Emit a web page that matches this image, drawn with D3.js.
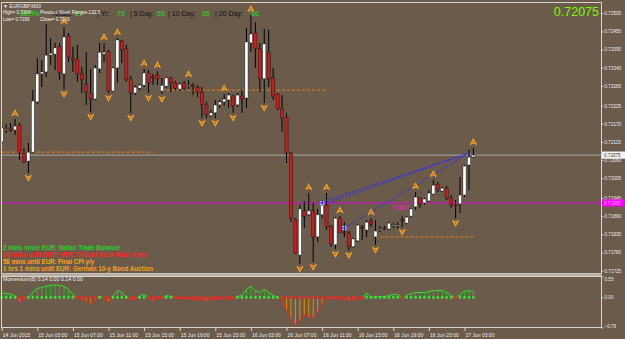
<!DOCTYPE html>
<html lang="en">
<head>
<meta charset="UTF-8">
<title>EURGBP,M30</title>
<script src="https://d3js.org/d3.v7.min.js"></script>
<style>
body { margin:0; background:#6b5b4b; }
svg { display:block; font-family:"Liberation Sans", Arial, sans-serif; }
</style>
</head>
<body>
<div id="chart"></div>
<script>
// EURGBP M30, 14 Jun 23:00 .. 17 Jun 04:00 (one entry per bar)
var opens = [0.72115,0.72154,0.72157,0.72151,0.72166,0.72081,0.72057,0.72084,0.72236,0.72321,
  0.72327,0.72378,0.72381,0.72403,0.72321,0.72436,0.72369,0.72366,0.72321,0.72290,
  0.72263,0.72245,0.72336,0.72381,0.72390,0.72269,0.72339,0.72421,0.72397,0.72306,
  0.72263,0.72278,0.72287,0.72324,0.72312,0.72318,0.72269,0.72284,0.72309,0.72294,
  0.72275,0.72294,0.72284,0.72287,0.72281,0.72266,0.72227,0.72194,0.72203,0.72227,
  0.72236,0.72242,0.72254,0.72227,0.72254,0.72248,0.72415,0.72445,0.72397,0.72306,
  0.72387,0.72309,0.72260,0.72215,0.72190,0.72081,0.71881,0.71772,0.71906,0.71894,
  0.71906,0.71827,0.71894,0.71924,0.71860,0.71803,0.71884,0.71842,0.71839,0.71797,
  0.71815,0.71857,0.71848,0.71875,0.71827,0.71851,0.71854,0.71851,0.71863,0.71860,
  0.71879,0.71869,0.71890,0.71918,0.71945,0.71930,0.71936,0.71957,0.71987,0.71966,
  0.71975,0.71945,0.71924,0.71927,0.71954,0.72045,0.72069];
var highs = [0.72163,0.72169,0.72172,0.72184,0.72172,0.72097,0.72112,0.72272,0.72369,0.72363,
  0.72472,0.72430,0.72415,0.72415,0.72463,0.72445,0.72403,0.72409,0.72342,0.72387,
  0.72336,0.72348,0.72415,0.72415,0.72394,0.72342,0.72430,0.72424,0.72409,0.72315,
  0.72287,0.72290,0.72336,0.72333,0.72321,0.72330,0.72309,0.72312,0.72312,0.72300,
  0.72294,0.72300,0.72303,0.72294,0.72287,0.72281,0.72236,0.72212,0.72242,0.72242,
  0.72260,0.72263,0.72257,0.72263,0.72272,0.72460,0.72500,0.72478,0.72415,0.72457,
  0.72454,0.72339,0.72263,0.72257,0.72203,0.72084,0.71884,0.71924,0.71936,0.71960,
  0.71930,0.71912,0.71939,0.71960,0.71863,0.71887,0.71890,0.71872,0.71845,0.71824,
  0.71866,0.71863,0.71878,0.71884,0.71878,0.71860,0.71860,0.71872,0.71869,0.71872,
  0.71890,0.71890,0.71915,0.71963,0.71948,0.71945,0.71969,0.72000,0.71993,0.71978,
  0.71981,0.71954,0.71939,0.72009,0.72045,0.72091,0.72097];
var lows = [0.72109,0.72142,0.72145,0.72136,0.72060,0.72051,0.72021,0.72081,0.72230,0.72281,
  0.72312,0.72348,0.72333,0.72303,0.72275,0.72357,0.72327,0.72297,0.72263,0.72227,
  0.72206,0.72242,0.72324,0.72357,0.72263,0.72266,0.72294,0.72354,0.72297,0.72203,
  0.72257,0.72272,0.72281,0.72263,0.72287,0.72287,0.72260,0.72278,0.72266,0.72272,
  0.72269,0.72272,0.72275,0.72257,0.72251,0.72187,0.72187,0.72190,0.72187,0.72218,
  0.72224,0.72218,0.72203,0.72221,0.72203,0.72218,0.72387,0.72339,0.72266,0.72233,
  0.72281,0.72242,0.72212,0.72145,0.72051,0.71872,0.71775,0.71745,0.71854,0.71890,
  0.71751,0.71812,0.71884,0.71848,0.71797,0.71790,0.71839,0.71827,0.71787,0.71794,
  0.71812,0.71818,0.71827,0.71857,0.71803,0.71842,0.71848,0.71848,0.71854,0.71851,
  0.71857,0.71866,0.71887,0.71909,0.71915,0.71924,0.71933,0.71954,0.71963,0.71963,
  0.71939,0.71915,0.71884,0.71900,0.71948,0.71969,0.72066];
var closes = [0.72157,0.72155,0.72151,0.72163,0.72081,0.72054,0.72084,0.72239,0.72321,0.72327,
  0.72378,0.72384,0.72400,0.72324,0.72433,0.72372,0.72363,0.72321,0.72303,0.72266,
  0.72245,0.72339,0.72387,0.72387,0.72269,0.72339,0.72424,0.72394,0.72303,0.72263,
  0.72281,0.72287,0.72324,0.72294,0.72309,0.72306,0.72287,0.72309,0.72294,0.72278,
  0.72290,0.72278,0.72287,0.72284,0.72266,0.72227,0.72197,0.72203,0.72227,0.72236,
  0.72245,0.72257,0.72224,0.72257,0.72245,0.72418,0.72442,0.72397,0.72306,0.72412,
  0.72306,0.72254,0.72215,0.72187,0.72081,0.71884,0.71778,0.71912,0.71890,0.71906,
  0.71827,0.71894,0.71927,0.71857,0.71806,0.71884,0.71839,0.71839,0.71797,0.71821,
  0.71863,0.71854,0.71872,0.71866,0.71845,0.71852,0.71853,0.71869,0.71864,0.71863,
  0.71878,0.71887,0.71912,0.71948,0.71927,0.71942,0.71960,0.71984,0.71972,0.71975,
  0.71945,0.71924,0.71921,0.71954,0.72042,0.72069,0.72075];

// Momentum(8) sub window
var momentum = [0.11,0.11,0.08,0.05,-0.11,-0.05,0.01,0.13,0.24,0.26,
  0.29,0.32,0.32,0.32,0.29,0.21,0.08,-0.02,-0.05,-0.08,
  -0.16,-0.05,0.03,-0.01,-0.11,0.03,0.18,0.13,0.03,-0.05,
  -0.05,0.03,0.08,-0.01,-0.08,-0.03,-0.01,0.05,0.03,-0.01,
  -0.03,-0.03,-0.03,-0.05,-0.05,-0.05,-0.08,-0.05,-0.05,-0.03,
  -0.03,-0.05,-0.03,0.03,0.05,0.21,0.29,0.18,0.13,0.21,
  0.13,0.05,0.01,-0.05,-0.34,-0.55,-0.71,-0.61,-0.45,-0.50,
  -0.53,-0.39,-0.16,-0.03,-0.01,-0.03,-0.05,-0.03,-0.08,-0.05,
  -0.03,-0.03,0.11,0.01,0.01,0.02,0.02,0.05,0.08,0.08,
  -0.02,0.05,0.11,0.13,0.13,0.13,0.16,0.18,0.18,0.18,
  0.13,0.05,-0.01,0.08,0.16,0.18,0.14];

var fractalUp = [3,14,23,26,32,35,42,50,56,69,73,76,83,93,97,106];
var fractalDown = [6,14,20,24,29,33,36,45,48,52,59,67,70,75,78,84,90,102];

var priceTicks = [0.72505,0.72450,0.72395,0.72340,0.72285,0.72225,0.72170,0.72115,
  0.72060,0.72005,0.71945,0.71890,0.71835,0.71780,0.71725];
var momTicks = [0.55,0.00,-0.79];

var timeTickBars = [0,8,16,24,32,40,48,56,64,72,80,88,96,104];
var timeLabels = ["14 Jun 2015","15 Jun 03:00","15 Jun 07:00","15 Jun 11:00","15 Jun 15:00",
  "15 Jun 19:00","15 Jun 23:00","16 Jun 03:00","16 Jun 07:00","16 Jun 11:00",
  "16 Jun 15:00","16 Jun 19:00","16 Jun 23:00","17 Jun 03:00"];

var pivotLevel = 0.71930;
// [fromBar, toBar, price]
var rangeLevels = [[0,34,0.72084],[36,73,0.72272],[84,106,0.71827]];
// [bar1, price1, bar2, price2]
var trendLines = [[72,0.71933,105,0.72081],[72,0.71924,105,0.72081],[77,0.71854,105,0.72081]];
var anchors = [[72,0.71930],[77,0.71854]];

var newsLines = ["2 mins since EUR: Italian Trade Balance",
  "28 mins until GBP: MPC Official Bank Rate Votes",
  "58 mins until EUR: Final CPI y/y",
  "1 hrs 1 mins until EUR: German 10-y Bond Auction"];
var rangeLabels = ["Today:", "| Yr:", "| 5 Day:", "| 10 Day:", "| 20 Day:"];
var rangeValues = ["27", "75", "55", "65", "66"];

var W = 625, H = 339;
var svg = d3.select("#chart").append("svg").attr("width", W).attr("height", H);
svg.append("rect").attr("width", W).attr("height", H).attr("fill", "#6b5b4b");

var x = d3.scaleLinear().domain([0, 106]).range([1.7, 473.4]);
var y = d3.scaleLinear().domain([0.71725, 0.72505]).range([270.6, 13.2]);
var ym = d3.scaleLinear().domain([-0.79, 0.55]).range([327.5, 276.5]);

svg.append("clipPath").attr("id", "main").append("rect")
  .attr("x", 1).attr("y", 2).attr("width", 600).attr("height", 271);
var main = svg.append("g").attr("clip-path", "url(#main)");

// bid and pivot lines
var last = closes.length - 1;
main.append("line").attr("x1", 1).attr("x2", 601)
  .attr("y1", y(closes[last])).attr("y2", y(closes[last]))
  .attr("stroke", "#a6a6a6").attr("stroke-width", 1);
main.append("line").attr("x1", 1).attr("x2", 601)
  .attr("y1", y(pivotLevel)).attr("y2", y(pivotLevel))
  .attr("stroke", "#e000e0").attr("stroke-width", 1);

main.selectAll(".lvl").data(rangeLevels).enter().append("line")
  .attr("x1", function(d){ return x(d[0]); }).attr("x2", function(d){ return x(d[1]); })
  .attr("y1", function(d){ return y(d[2]); }).attr("y2", function(d){ return y(d[2]); })
  .attr("stroke", "#e8801e").attr("stroke-width", 1).attr("stroke-dasharray", "3,2");

// candles
var bars = d3.range(opens.length);
main.selectAll(".wick").data(bars).enter().append("line")
  .attr("x1", function(i){ return x(i); }).attr("x2", function(i){ return x(i); })
  .attr("y1", function(i){ return y(highs[i]); }).attr("y2", function(i){ return y(lows[i]); })
  .attr("stroke", "#000").attr("stroke-width", 1);
main.selectAll(".body").data(bars).enter().append("rect")
  .attr("x", function(i){ return x(i) - 1.6; })
  .attr("y", function(i){ return y(Math.max(opens[i], closes[i])); })
  .attr("width", 3.2)
  .attr("height", function(i){ return Math.max(1, Math.abs(y(opens[i]) - y(closes[i]))); })
  .attr("fill", function(i){ return closes[i] >= opens[i] ? "#ffffff" : "#d0191b"; })
  .attr("stroke", "#1a1a1a").attr("stroke-width", 0.5);

// trend lines
main.selectAll(".trend").data(trendLines).enter().append("line")
  .attr("x1", function(d){ return x(d[0]); }).attr("y1", function(d){ return y(d[1]); })
  .attr("x2", function(d){ return x(d[2]); }).attr("y2", function(d){ return y(d[3]); })
  .attr("stroke", "#2b2bff").attr("stroke-width", 1).attr("stroke-dasharray", "2,1.5");
var anc = main.selectAll(".anc").data(anchors).enter().append("g")
  .attr("transform", function(d){ return "translate(" + x(d[0]) + "," + y(d[1]) + ")"; });
anc.append("circle").attr("r", 2.3).attr("fill", "#ffffff");
anc.append("path").attr("d", "M-2,0H2M0,-2.5V2.5").attr("stroke", "#1a1aff").attr("stroke-width", 1.2);

// fractal arrows
main.selectAll(".up").data(fractalUp).enter().append("path")
  .attr("transform", function(i){ return "translate(" + x(i) + "," + (y(highs[i]) - 6) + ")"; })
  .attr("d", "M-3,3L0,-2.5L3,3M-1.5,1.2H1.5")
  .attr("fill", "none").attr("stroke", "#f2a023").attr("stroke-width", 1.3);
main.selectAll(".dn").data(fractalDown).enter().append("path")
  .attr("transform", function(i){ return "translate(" + x(i) + "," + (y(lows[i]) + 5) + ")"; })
  .attr("d", "M-3,-3L0,2.5L3,-3M-1.5,-1.2H1.5")
  .attr("fill", "none").attr("stroke", "#f2a023").attr("stroke-width", 1.3);

main.append("text").attr("x", 393).attr("y", 210).attr("font-size", 7)
  .attr("fill", "#e020e0").text("9384");

// header
svg.append("text").attr("x", 3).attr("y", 8).attr("font-size", 5).attr("fill", "#f0f0f0")
  .text("\u25BC EURGBP,M30");
svg.append("text").attr("x", 20).attr("y", 16).attr("font-size", 7).attr("font-weight", "bold")
  .attr("fill", "#22cc22").text("32.5%");
var rangeX = [52, 97, 130, 168, 215];
var valX = [75, 117, 157, 202, 251];
rangeLabels.forEach(function(t, i){
  svg.append("text").attr("x", rangeX[i]).attr("y", 16).attr("font-size", 7)
    .attr("fill", "#111").text(t);
  svg.append("text").attr("x", valX[i]).attr("y", 16).attr("font-size", 7)
    .attr("fill", "#22dd22").text(rangeValues[i]);
});
svg.append("text").attr("x", 3).attr("y", 14).attr("font-size", 4.6).attr("fill", "#f4f4f4")
  .text("High= 0.7308");
svg.append("text").attr("x", 40).attr("y", 14).attr("font-size", 4.6).attr("fill", "#f4f4f4")
  .attr("textLength", 60).text("Previous Week Ranges 132.5");
svg.append("text").attr("x", 3).attr("y", 21).attr("font-size", 4.6).attr("fill", "#f4f4f4")
  .text("Low= 0.7196");
svg.append("text").attr("x", 40).attr("y", 21).attr("font-size", 4.6).attr("fill", "#f4f4f4")
  .text("Close= 0.7216");
svg.append("text").attr("x", 599).attr("y", 16).attr("text-anchor", "end")
  .attr("font-size", 12.5).attr("fill", "#7cfc00").text(closes[last].toFixed(5));

// news lines
var newsColors = ["#2ccf2c", "#ff2222", "#ffa31a", "#f2a21e"];
var newsLen = [117, 144, 91, 150];
newsLines.forEach(function(t, i){
  svg.append("text").attr("x", 3).attr("y", 249.5 + i * 7).attr("font-size", 6.3)
    .attr("font-weight", "bold").attr("fill", newsColors[i])
    .attr("textLength", newsLen[i]).attr("lengthAdjust", "spacingAndGlyphs").text(t);
});

// momentum pane
var z0 = ym(0);
svg.append("clipPath").attr("id", "pos").append("rect").attr("x", 0).attr("y", 270).attr("width", 601).attr("height", z0 - 270);
svg.append("clipPath").attr("id", "neg").append("rect").attr("x", 0).attr("y", z0).attr("width", 601).attr("height", 340 - z0);
svg.selectAll(".hist").data(bars).enter().append("line")
  .attr("x1", function(i){ return x(i); }).attr("x2", function(i){ return x(i); })
  .attr("y1", z0).attr("y2", function(i){ return ym(momentum[i]); })
  .attr("stroke", function(i){ return momentum[i] >= 0 ? "#22bb22" : "#e58a00"; })
  .attr("stroke-width", 1);
var mline = d3.line().x(function(d, i){ return x(i); }).y(function(d){ return ym(d); });
svg.append("path").datum(momentum).attr("d", mline).attr("clip-path", "url(#pos)")
  .attr("fill", "none").attr("stroke", "#2ee02e").attr("stroke-width", 1);
svg.append("path").datum(momentum).attr("d", mline).attr("clip-path", "url(#neg)")
  .attr("fill", "none").attr("stroke", "#ff2020").attr("stroke-width", 1);
svg.selectAll(".dot").data(bars).enter().append("rect")
  .attr("x", function(i){ return x(i) - 1.2; }).attr("y", z0 - 1.2)
  .attr("width", 2.4).attr("height", 2.4)
  .attr("fill", function(i){ return momentum[i] >= 0 ? "#33ee33" : "#ff2020"; });
svg.append("text").attr("x", 3).attr("y", 281).attr("font-size", 5).attr("fill", "#f4f4f4")
  .attr("textLength", 80).attr("lengthAdjust", "spacingAndGlyphs")
  .text("Momentum(8) " + momentum[last].toFixed(2) + " 0.00 " + momentum[last].toFixed(2) + " 0.00");

// frames
var frame = "#d9d4cc";
svg.append("rect").attr("x", 1.5).attr("y", 2.5).attr("width", 600).attr("height", 271)
  .attr("fill", "none").attr("stroke", frame);
svg.append("rect").attr("x", 1).attr("y", 273.5).attr("width", 601).attr("height", 2.5).attr("fill", "#b5aea5");
svg.append("rect").attr("x", 1.5).attr("y", 276.5).attr("width", 600).attr("height", 51)
  .attr("fill", "none").attr("stroke", frame);

// price axis
var pa = svg.append("g").attr("transform", "translate(601.5,0)")
  .call(d3.axisRight(y).tickValues(priceTicks).tickFormat(d3.format(".5f")).tickSize(2).tickPadding(1));
pa.select(".domain").remove();
pa.selectAll("line").attr("stroke", frame);
pa.selectAll("text").attr("font-size", 4.6).attr("fill", "#ececec").attr("font-family", "Liberation Sans, Arial");

// bid and pivot boxes
var boxes = [[closes[last], "#f2f2f2", "#333"], [pivotLevel, "#ff00ff", "#ffb0ff"]];
boxes.forEach(function(b){
  svg.append("rect").attr("x", 602).attr("y", y(b[0]) - 3.6).attr("width", 23).attr("height", 7.2).attr("fill", b[1]);
  svg.append("text").attr("x", 604).attr("y", y(b[0]) + 1.7).attr("font-size", 4.6)
    .attr("fill", b[2]).text(b[0].toFixed(5));
});

// momentum axis
var ma = svg.append("g").attr("transform", "translate(601.5,0)")
  .call(d3.axisRight(ym).tickValues(momTicks).tickFormat(d3.format(".2f")).tickSize(2).tickPadding(1));
ma.select(".domain").remove();
ma.selectAll("line").attr("stroke", frame);
ma.selectAll("text").attr("font-size", 4.6).attr("fill", "#ececec").attr("font-family", "Liberation Sans, Arial")
  .attr("dy", function(d){ return d > 0.3 ? "0.9em" : (d < -0.3 ? "-0.1em" : "0.32em"); });

// time axis
var ta = svg.append("g").attr("transform", "translate(0,328)")
  .call(d3.axisBottom(x).tickValues(timeTickBars)
    .tickFormat(function(d, i){ return timeLabels[i]; }).tickSize(3).tickPadding(2));
ta.select(".domain").remove();
ta.selectAll("line").attr("stroke", frame);
ta.selectAll("text").attr("font-size", 5).attr("fill", "#ececec").attr("font-family", "Liberation Sans, Arial")
  .attr("text-anchor", "start").attr("dx", "0.5");
</script>
</body>
</html>
